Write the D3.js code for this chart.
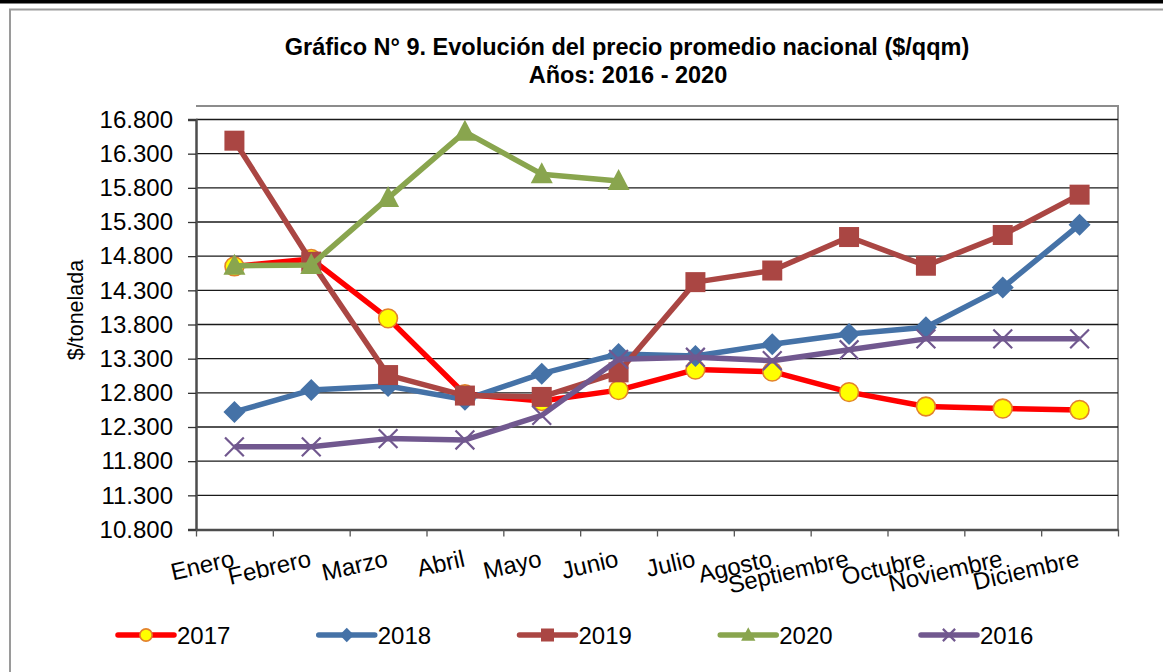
<!DOCTYPE html>
<html lang="es">
<head>
<meta charset="UTF-8">
<title>Gráfico N° 9</title>
<style>
  body { margin: 0; background: #fff; }
  svg text { font-family: Arial, "Liberation Sans", sans-serif; fill: #000; }
</style>
</head>
<body>
<svg id="chart" width="1163" height="672"></svg>
<script src="https://d3js.org/d3.v7.min.js"></script>
<script>

const meses = ["Enero", "Febrero", "Marzo", "Abril", "Mayo", "Junio", "Julio",
    "Agosto", "Septiembre", "Octubre", "Noviembre", "Diciembre"];
const anios = ["2017", "2018", "2019", "2020", "2016"];
const yTicks = [10800, 11300, 11800, 12300, 12800, 13300, 13800, 14300, 14800, 15300, 15800, 16300, 16800];

const v2017 = [14650, 14760, 13890, 12780, 12680, 12840, 13140, 13110, 12810, 12600, 12570, 12550];
const v2018 = [12520, 12840, 12900, 12700, 13080, 13370, 13340, 13510, 13660, 13760, 14340, 15260];
const v2019 = [16490, 14720, 13060, 12760, 12740, 13100, 14420, 14590, 15080, 14660, 15110, 15700];
const v2020 = [14660, 14670, 15650, 16620, 16000, 15900, null, null, null, null, null, null];
const v2016 = [12010, 12010, 12130, 12110, 12470, 13290, 13320, 13270, 13430, 13590, 13590, 13590];

const series = [
    {name: "2017", values: v2017, color: "#FF0000", marker: "circle"},
    {name: "2018", values: v2018, color: "#4572A7", marker: "diamond"},
    {name: "2019", values: v2019, color: "#AA4643", marker: "square"},
    {name: "2020", values: v2020, color: "#89A54E", marker: "triangle"},
    {name: "2016", values: v2016, color: "#71588F", marker: "cross"}
];

const es = d3.formatLocale({decimal: ",", thousands: ".", grouping: [3], currency: ["$", ""]});
const fmt = es.format(",.0f");

let svg = d3.select("#chart");

// marco
svg.append("rect").attr("x", 0).attr("y", 0).attr("width", 1163).attr("height", 3.5).attr("fill", "#000");
svg.append("path").attr("d", "M10,672 V9.5 H1163")
    .attr("fill", "none").attr("stroke", "#9a9a9a").attr("stroke-width", 2);

// titulo
svg.append("text").attr("x", 627).attr("y", 55).attr("text-anchor", "middle")
    .style("font-size", "23.5px").style("font-weight", "bold")
    .text("Gráfico N° 9. Evolución del precio promedio nacional ($/qqm)");
svg.append("text").attr("x", 628).attr("y", 83).attr("text-anchor", "middle")
    .style("font-size", "23.5px").style("font-weight", "bold")
    .text("Años: 2016 - 2020");

let plotLeft = 196, plotRight = 1118, plotTop = 106;

let x = d3.scaleBand().domain(meses).range([plotLeft, plotRight]);
let xTick = d3.scaleLinear().domain([0, 12]).range([plotLeft, plotRight]);
let y = d3.scaleLinear().domain([10800, 16800]).range([529.5, 119.5]);
let cx = m => x(m) + x.bandwidth() / 2;

// borde del area de trazado
svg.append("path").attr("d", `M${plotLeft},${plotTop} H${plotRight} V${y(10800)}`)
    .attr("fill", "none").attr("stroke", "#8c8c8c").attr("stroke-width", 2);

// lineas de division
svg.append("g").selectAll("line")
    .data(yTicks.slice(1))
    .enter()
    .append("line")
    .attr("x1", plotLeft).attr("x2", plotRight)
    .attr("y1", d => y(d)).attr("y2", d => y(d))
    .attr("stroke", "#1a1a1a").attr("stroke-width", 1.4);

// eje y
let yAxis = svg.append("g")
    .attr("transform", "translate(" + plotLeft + ",0)")
    .call(d3.axisLeft(y).tickValues(yTicks).tickFormat(fmt).tickSize(8).tickPadding(15));
yAxis.select(".domain").attr("stroke", "#4d4d4d").attr("stroke-width", 2.5);
yAxis.selectAll(".tick line").attr("stroke", "#333").attr("stroke-width", 1.3);
yAxis.selectAll("text").style("font-size", "24px").style("font-family", "Arial, 'Liberation Sans', sans-serif").attr("fill", "#000");

// eje x
let xAxis = svg.append("g")
    .attr("transform", "translate(0," + y(10800) + ")")
    .call(d3.axisBottom(xTick).ticks(12).tickFormat("").tickSize(7).tickSizeOuter(0));
xAxis.select(".domain").attr("stroke", "#4d4d4d").attr("stroke-width", 2.5);
xAxis.selectAll(".tick line").attr("stroke", "#555").attr("stroke-width", 1.3);

svg.append("g").selectAll("text")
    .data(meses)
    .enter()
    .append("text")
    .attr("text-anchor", "end")
    .attr("transform", d => "translate(" + (cx(d) + 1) + ",566) rotate(-13)")
    .style("font-size", "24px")
    .text(d => d);

// titulo eje y
svg.append("text")
    .attr("transform", "translate(83,310) rotate(-90)")
    .attr("text-anchor", "middle")
    .style("font-size", "21.5px")
    .text("$/tonelada");

function drawMarker(g, type, color, s) {
    if (type === "circle") {
        g.append("circle").attr("r", s * 0.47).attr("fill", "#FFFF00")
            .attr("stroke", "#E3822B").attr("stroke-width", 1.6);
    } else if (type === "diamond") {
        g.append("path").attr("d", `M0,${-s * 0.55} L${s * 0.55},0 L0,${s * 0.55} L${-s * 0.55},0 Z`)
            .attr("fill", color);
    } else if (type === "square") {
        g.append("rect").attr("x", -s / 2).attr("y", -s / 2).attr("width", s).attr("height", s)
            .attr("fill", color);
    } else if (type === "triangle") {
        g.append("path").attr("d", `M0,${-s * 0.6} L${s * 0.55},${s * 0.45} L${-s * 0.55},${s * 0.45} Z`)
            .attr("fill", color);
    } else {
        let h = s * 0.47;
        g.append("path").attr("d", `M${-h},${-h} L${h},${h} M${-h},${h} L${h},${-h}`)
            .attr("stroke", color).attr("stroke-width", 2.2);
    }
}

let line = d3.line()
    .defined(d => d.v !== null)
    .x(d => cx(d.m))
    .y(d => y(d.v));

series.forEach(s => {
    let pts = s.values.map((v, i) => ({m: meses[i], v: v}));
    let g = svg.append("g");
    g.append("path")
        .datum(pts)
        .attr("d", line)
        .attr("fill", "none")
        .attr("stroke", s.color)
        .attr("stroke-width", 5.5)
        .attr("stroke-linejoin", "round");
    g.selectAll("g.mk")
        .data(pts.filter(d => d.v !== null))
        .enter()
        .append("g")
        .attr("class", "mk")
        .attr("transform", d => "translate(" + cx(d.m) + "," + y(d.v) + ")")
        .each(function() { drawMarker(d3.select(this), s.marker, s.color, 20); });
});

// leyenda
let legX = d3.scalePoint().domain(anios).range([118, 921]);
let leg = svg.append("g").selectAll("g")
    .data(series)
    .enter()
    .append("g")
    .attr("transform", d => "translate(" + legX(d.name) + ",635)");
leg.append("line")
    .attr("x1", 0).attr("x2", 56)
    .attr("stroke", d => d.color).attr("stroke-width", 5.5).attr("stroke-linecap", "round");
leg.append("g")
    .attr("transform", "translate(28,0)")
    .each(function(d) { drawMarker(d3.select(this), d.marker, d.color, 13); });
leg.append("text")
    .attr("x", 59).attr("y", 9)
    .style("font-size", "24px")
    .text(d => d.name);

</script>
</body>
</html>
